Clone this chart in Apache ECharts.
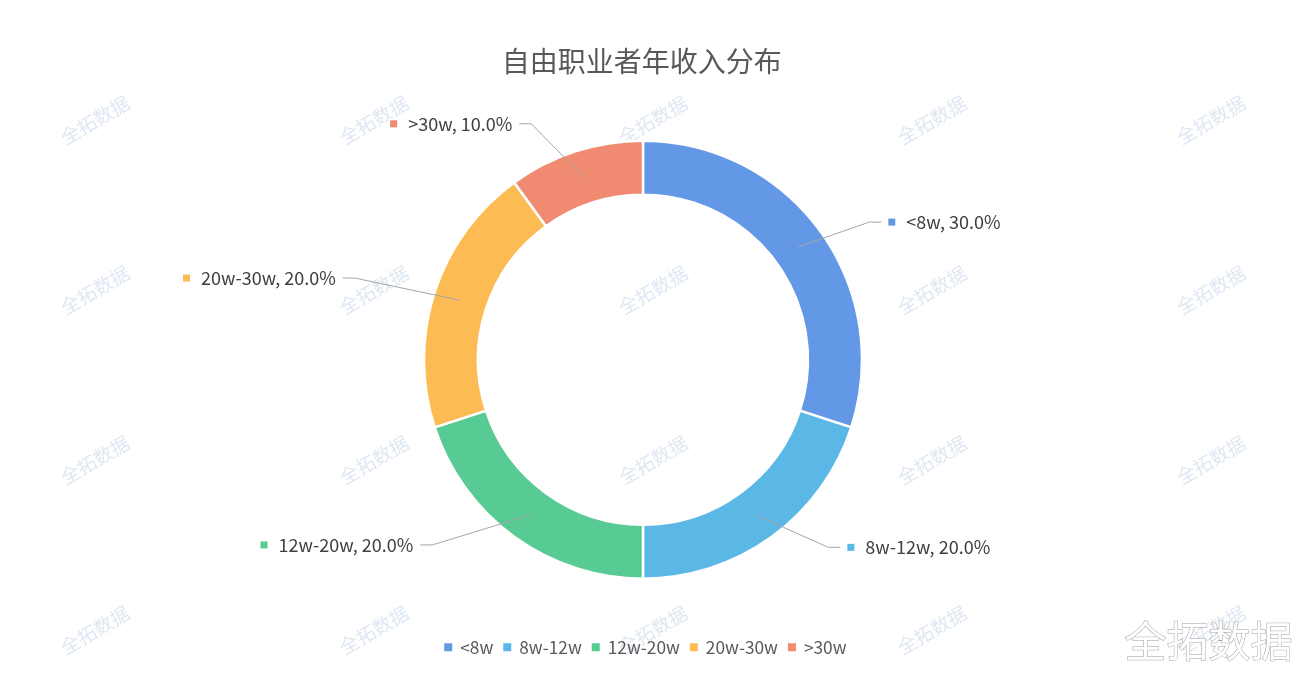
<!DOCTYPE html>
<html>
<head>
<meta charset="utf-8">
<script src="https://cdn.jsdelivr.net/npm/echarts@6/dist/echarts.min.js"></script>
<style>
html,body{margin:0;padding:0;background:#fff;}
#chart{width:1313px;height:689px;}
</style>
</head>
<body>
<div id="chart"></div>
<script>
const categories = ['<8w', '8w-12w', '12w-20w', '20w-30w', '>30w'];
const values = [30, 20, 20, 20, 10];
const colors = ['#6298e6', '#5bb7e5', '#58ca93', '#fdbb53', '#f08a70'];
const titleText = '自由职业者年收入分布';
const watermarkText = '全拓数据';

// label leader-line lengths (style), measured from mid-ring radius
const lineLen = [42, 40, 37, 72, 56];
const lineLen2 = [49, 61, 88, 49, 47];

// watermark tile
const tile = document.createElement('canvas');
tile.width = 279; tile.height = 170;
const tctx = tile.getContext('2d');
tctx.fillStyle = '#fff';
tctx.fillRect(0, 0, tile.width, tile.height);
tctx.save();
tctx.translate(95, 120);
tctx.rotate(-Math.PI / 6);
tctx.fillStyle = 'rgba(190,208,232,0.5)';
tctx.font = '19px "Noto Sans CJK SC"';
tctx.textAlign = 'center';
tctx.textBaseline = 'middle';
tctx.fillText(watermarkText, 0, 0);
tctx.restore();

const chart = echarts.init(document.getElementById('chart'), null, {renderer: 'canvas'});
const total = values.reduce((a, b) => a + b, 0);
const rich = {t: {fontSize: 18, color: '#404040', fontFamily: '"Noto Sans CJK SC", sans-serif', padding: [0, 0, 0, 11]}};
colors.forEach((c, i) => { rich['m' + i] = {width: 7, height: 7, backgroundColor: c}; });

const centerPct = ['48.97%', '52.2%'];
const R_OUT = 219, R_IN = 165;
const R_MID = (R_OUT + R_IN) / 2;

chart.setOption({
  backgroundColor: {image: tile, repeat: 'repeat'},
  animation: false,
  title: {
    text: titleText,
    left: '48.5%',
    textAlign: 'center',
    top: 42,
    textStyle: {fontSize: 28, fontWeight: 'normal', color: '#595959', fontFamily: '"Noto Sans CJK SC", sans-serif'}
  },
  legend: {
    bottom: 28,
    left: '33.3%',
    icon: 'rect',
    itemWidth: 10,
    itemHeight: 10,
    itemGap: 8,
    textStyle: {fontSize: 17.3, color: '#595959', fontFamily: '"Noto Sans CJK SC", sans-serif', padding: [0, 0, 0, 2]},
    data: categories
  },
  color: colors,
  graphic: [{
    type: 'text',
    right: 20,
    bottom: 26,
    style: {
      text: watermarkText,
      font: '42px "Noto Sans CJK SC"',
      fill: '#ffffff',
      stroke: '#a0a0a0',
      lineWidth: 1
    }
  }],
  series: [{
    name: 'ring',
    type: 'pie',
    z: 2,
    center: centerPct,
    radius: [R_IN, R_OUT],
    startAngle: 90,
    clockwise: true,
    itemStyle: {borderColor: '#fff', borderWidth: 2.5},
    label: {show: false},
    labelLine: {show: false},
    emphasis: {disabled: true},
    silent: true,
    data: categories.map((c, i) => ({name: c, value: values[i]}))
  }, {
    name: 'labels',
    type: 'pie',
    z: 3,
    center: centerPct,
    radius: [0, R_MID],
    startAngle: 90,
    clockwise: true,
    silent: true,
    avoidLabelOverlap: false,
    itemStyle: {color: 'rgba(0,0,0,0)', borderWidth: 0},
    label: {
      show: true,
      distanceToLabelLine: 7,
      formatter: p => '{m' + p.dataIndex + '|}{t|' + p.name + ', ' + (p.value / total * 100).toFixed(1) + '%}',
      rich: rich
    },
    labelLine: {show: true, lineStyle: {color: '#a6a6a6', width: 1}},
    labelLayout: function (params) {
      const pts = params.labelLinePoints;
      if (!pts) return {};
      const cx = chart.getWidth() * parseFloat(centerPct[0]) / 100;
      const p0 = [pts[0][0], pts[0][1]];
      const p2 = [pts[2][0], pts[2][1]];
      const p1 = [p2[0] + (p2[0] > cx ? -12 : 12), p2[1]];
      return {labelLinePoints: [p0, p1, p2]};
    },
    emphasis: {disabled: true},
    data: categories.map((c, i) => ({
      name: c,
      value: values[i],
      labelLine: {length: lineLen[i], length2: lineLen2[i]}
    }))
  }]
});
</script>
</body>
</html>
